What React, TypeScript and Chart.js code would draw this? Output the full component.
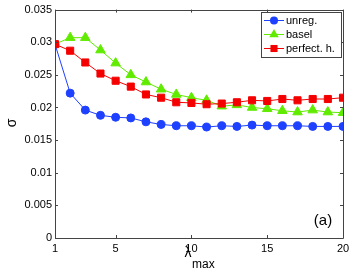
import React, { useEffect, useRef } from "react";
import { Chart, registerables } from "chart.js";

Chart.register(...registerables);

const lambdaMax = [1, 2, 3, 4, 5, 6, 7, 8, 9, 10, 11, 12, 13, 14, 15, 16, 17, 18, 19, 20];
const unreg = [0.0297, 0.0222, 0.0196, 0.0188, 0.0185, 0.0184, 0.0178, 0.0174, 0.0172, 0.0172, 0.0170, 0.0172, 0.0171, 0.0173, 0.0172, 0.0172, 0.0172, 0.0171, 0.0171, 0.0171];
const basel = [0.0297, 0.0307, 0.0307, 0.0288, 0.0268, 0.0250, 0.0239, 0.0228, 0.0220, 0.0215, 0.0211, 0.0202, 0.0204, 0.0200, 0.0198, 0.0195, 0.0193, 0.0196, 0.0193, 0.0192];
const perfect = [0.0297, 0.0287, 0.0269, 0.0252, 0.0241, 0.0232, 0.0220, 0.0215, 0.0208, 0.0207, 0.0205, 0.0206, 0.0208, 0.0211, 0.0210, 0.0213, 0.0211, 0.0213, 0.0213, 0.0215];
const seriesNames = ["unreg.", "basel", "perfect. h."];
const xTicks = [1, 5, 10, 15, 20];
const yTickLabels = ["0", "0.005", "0.01", "0.015", "0.02", "0.025", "0.03", "0.035"];

const BLUE = "rgb(30,64,255)";
const GREEN = "rgb(96,235,0)";
const RED = "rgb(245,0,0)";
const AXIS = "#444";
const FONT = "'Liberation Sans', Arial, sans-serif";

function marker(ctx: CanvasRenderingContext2D, style: string, r: number, x: number, y: number) {
  ctx.beginPath();
  if (style === "circle") {
    ctx.arc(x, y, r, 0, Math.PI * 2);
  } else if (style === "triangle") {
    const h = r * 1.5;
    const hw = r * Math.sqrt(3) / 2;
    ctx.moveTo(x, y - r);
    ctx.lineTo(x + hw, y - r + h);
    ctx.lineTo(x - hw, y - r + h);
    ctx.closePath();
  } else {
    const s = r * Math.SQRT1_2;
    ctx.rect(x - s, y - s, 2 * s, 2 * s);
  }
  ctx.fill();
}

const decorPlugin = {
  id: "decor",
  afterDraw(chart: any) {
    const ctx = chart.ctx;
    const { left, right, top, bottom } = chart.chartArea;
    const xs = chart.scales.x;
    const ys = chart.scales.y;
    ctx.save();
    ctx.strokeStyle = AXIS;
    ctx.lineWidth = 1;
    ctx.beginPath();
    ctx.rect(Math.round(left) + 0.5, Math.round(top) + 0.5, Math.round(right - left), Math.round(bottom - top));
    ctx.stroke();
    const tl = 3;
    ctx.beginPath();
    xs.ticks.forEach((t: any) => {
      const px = Math.round(xs.getPixelForValue(t.value)) + 0.5;
      ctx.moveTo(px, bottom);
      ctx.lineTo(px, bottom - tl);
      ctx.moveTo(px, top);
      ctx.lineTo(px, top + tl);
    });
    ys.ticks.forEach((t: any) => {
      const py = Math.round(ys.getPixelForValue(t.value)) + 0.5;
      ctx.moveTo(left, py);
      ctx.lineTo(left + tl, py);
      ctx.moveTo(right, py);
      ctx.lineTo(right - tl, py);
    });
    ctx.stroke();

    // axis titles
    ctx.fillStyle = "#000";
    ctx.save();
    ctx.translate(12, 123);
    ctx.rotate(-Math.PI / 2);
    ctx.font = `14px ${FONT}`;
    ctx.textAlign = "center";
    ctx.textBaseline = "middle";
    ctx.fillText("σ", 0, 0);
    ctx.restore();

    ctx.font = `14px ${FONT}`;
    ctx.textAlign = "center";
    ctx.textBaseline = "alphabetic";
    ctx.fillText("λ", 188, 257);
    ctx.font = `12px ${FONT}`;
    ctx.textAlign = "left";
    ctx.fillText("max", 192, 268);

    ctx.font = `15px ${FONT}`;
    ctx.textAlign = "center";
    ctx.textBaseline = "middle";
    ctx.fillText("(a)", 323, 221);

    // legend
    const lx = 261, ly = 12, lw = 80, lh = 45;
    ctx.fillStyle = "#fff";
    ctx.fillRect(lx, ly, lw, lh);
    ctx.strokeStyle = AXIS;
    ctx.strokeRect(lx + 0.5, ly + 0.5, lw, lh);
    const rows = [20, 34, 48];
    const colors = [BLUE, GREEN, RED];
    const styles = ["circle", "triangle", "rect"];
    const radii = [4, 5.5, 5];
    rows.forEach((ry, i) => {
      ctx.strokeStyle = colors[i];
      ctx.lineWidth = 1;
      ctx.beginPath();
      ctx.moveTo(264, ry + 0.5);
      ctx.lineTo(284, ry + 0.5);
      ctx.stroke();
      ctx.fillStyle = colors[i];
      marker(ctx, styles[i], radii[i], 274, ry + 0.5);
      ctx.fillStyle = "#000";
      ctx.font = `11px ${FONT}`;
      ctx.textAlign = "left";
      ctx.textBaseline = "middle";
      ctx.fillText(seriesNames[i], 286, ry + 1);
    });
    ctx.restore();
  },
};

export default function App() {
  const ref = useRef<HTMLCanvasElement | null>(null);
  useEffect(() => {
    if (!ref.current) return;
    const mk = (label: string, data: number[], color: string, style: string, r: number, order: number) => ({
      label,
      data: lambdaMax.map((x, i) => ({ x, y: data[i] })),
      borderColor: color,
      backgroundColor: color,
      borderWidth: 1,
      pointStyle: style,
      pointRadius: r,
      pointBorderWidth: 1,
      pointBorderColor: color,
      pointBackgroundColor: color,
      tension: 0,
      order,
    });
    const chart = new Chart(ref.current, {
      type: "line",
      data: {
        datasets: [
          mk(seriesNames[0], unreg, BLUE, "circle", 4, 2),
          mk(seriesNames[1], basel, GREEN, "triangle", 5.5, 1),
          mk(seriesNames[2], perfect, RED, "rect", 5, 0),
        ] as any,
      },
      options: {
        animation: false,
        responsive: false,
        devicePixelRatio: 1,
        layout: { padding: { left: 0, right: 11, top: 9, bottom: 0 } },
        plugins: { legend: { display: false }, tooltip: { enabled: false } },
        scales: {
          x: {
            type: "linear",
            min: 1,
            max: 20,
            grid: { display: false, drawTicks: false },
            border: { display: false },
            afterBuildTicks: (s: any) => {
              s.ticks = xTicks.map((v) => ({ value: v }));
            },
            afterFit: (s: any) => {
              s.height = 35;
            },
            ticks: {
              autoSkip: false,
              maxRotation: 0,
              padding: 4,
              color: "#000",
              font: { family: FONT, size: 11 },
              callback: (v: any) => String(v),
            },
          },
          y: {
            min: 0,
            max: 0.035,
            grid: { display: false, drawTicks: false },
            border: { display: false },
            afterBuildTicks: (s: any) => {
              s.ticks = yTickLabels.map((_, i) => ({ value: i * 0.005 }));
            },
            afterFit: (s: any) => {
              s.width = 55;
            },
            ticks: {
              padding: 3,
              color: "#000",
              font: { family: FONT, size: 11 },
              callback: (_v: any, i: number) => yTickLabels[i],
            },
          },
        },
      },
      plugins: [decorPlugin],
    });
    return () => chart.destroy();
  }, []);
  return (
    <div style={{ position: "fixed", left: 0, top: 0, width: 354, height: 273, background: "#fff" }}>
      <canvas ref={ref} width={354} height={273} style={{ width: 354, height: 273 }} />
    </div>
  );
}
